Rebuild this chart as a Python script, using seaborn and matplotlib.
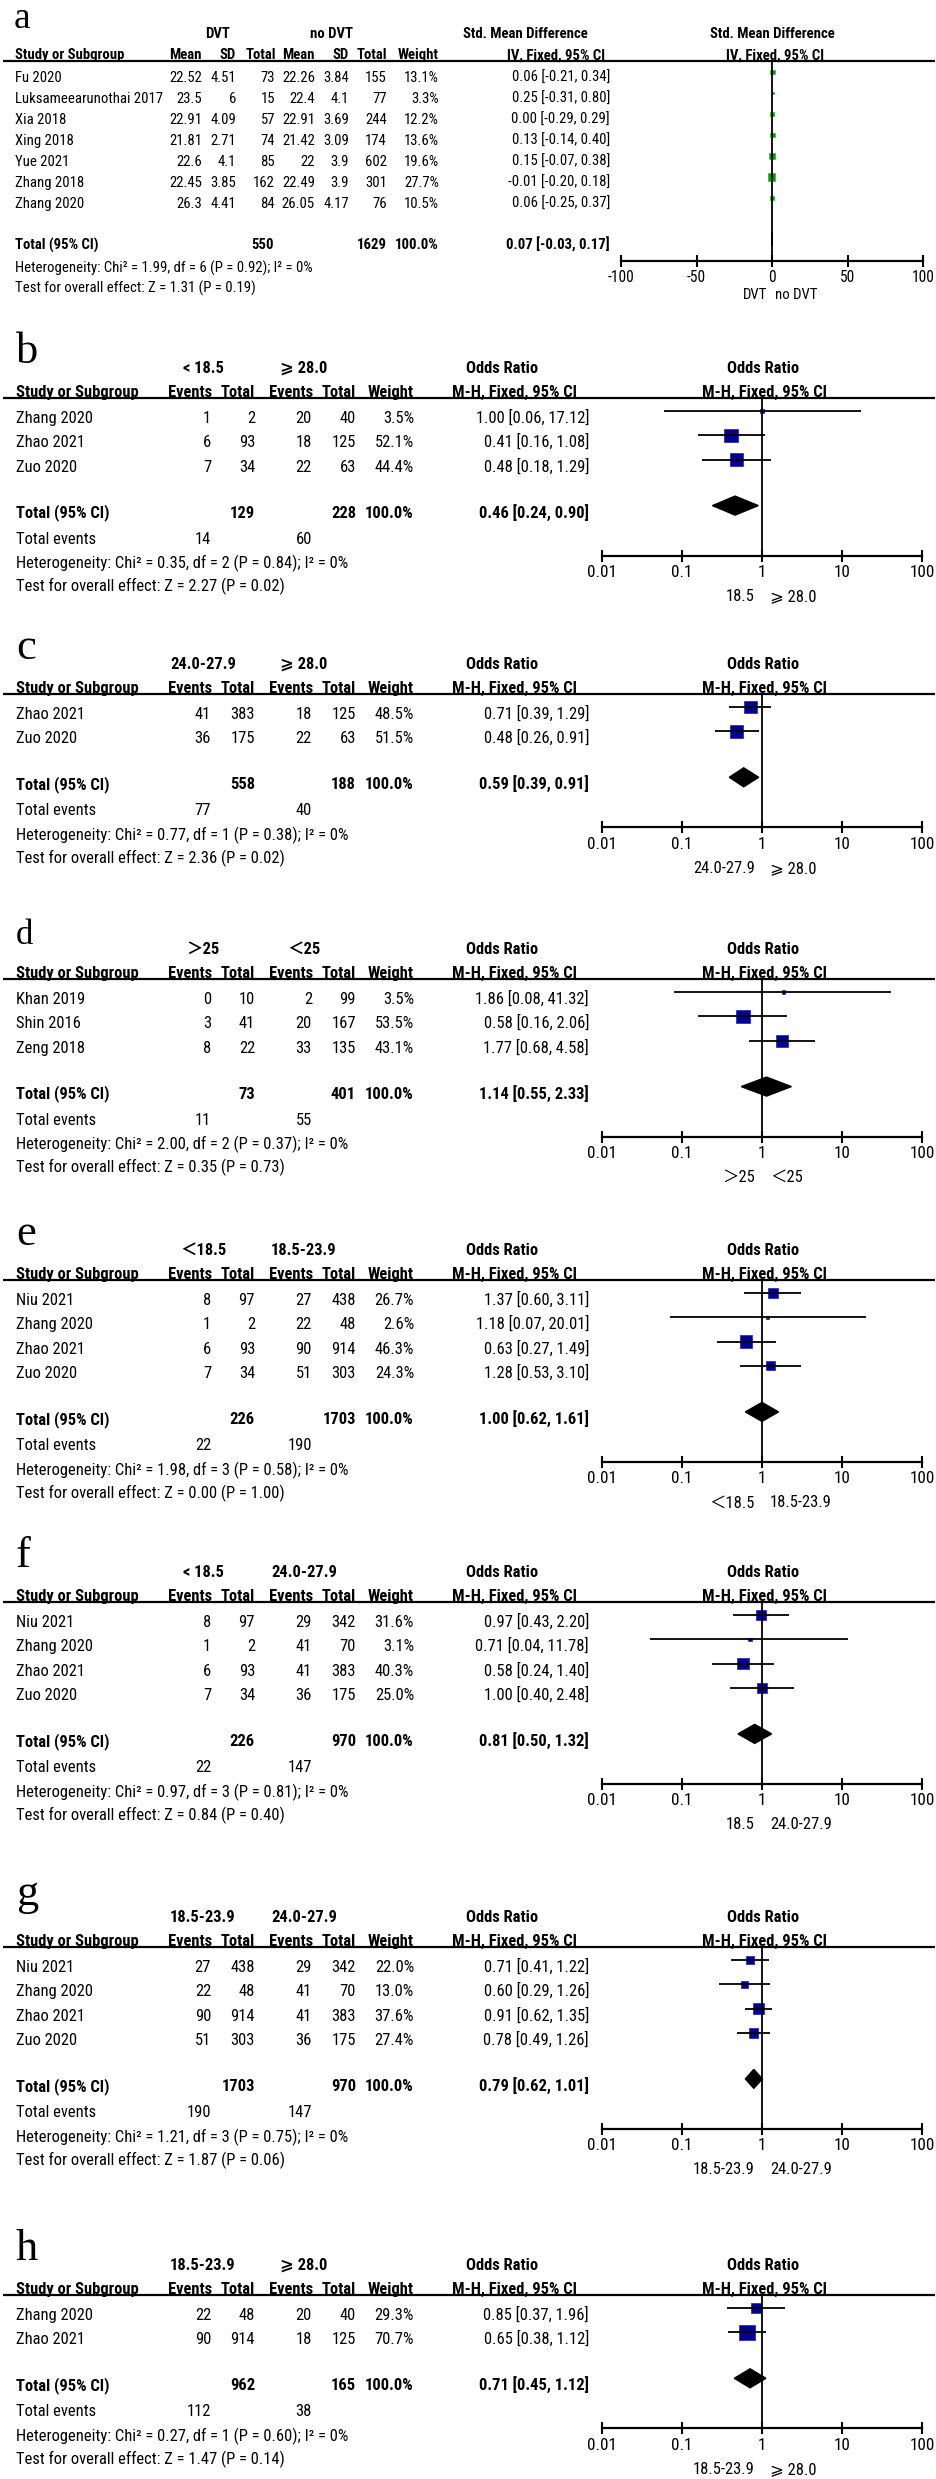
import matplotlib
matplotlib.use("Agg")
import matplotlib.pyplot as plt
import seaborn as sns
import pandas as pd
from matplotlib import font_manager
from matplotlib.ticker import NullLocator

# ---------------- data ----------------
# a: BMI, DVT vs no DVT (std. mean difference)
a_studies = ["Fu 2020", "Luksameearunothai 2017", "Xia 2018", "Xing 2018",
             "Yue 2021", "Zhang 2018", "Zhang 2020"]
a_mean1 = [22.52, 23.5, 22.91, 21.81, 22.6, 22.45, 26.3]
a_sd1 = [4.51, 6, 4.09, 2.71, 4.1, 3.85, 4.41]
a_n1 = [73, 15, 57, 74, 85, 162, 84]
a_mean2 = [22.26, 22.4, 22.91, 21.42, 22, 22.49, 26.05]
a_sd2 = [3.84, 4.1, 3.69, 3.09, 3.9, 3.9, 4.17]
a_n2 = [155, 77, 244, 174, 602, 301, 76]
a_weight = [13.1, 3.3, 12.2, 13.6, 19.6, 27.7, 10.5]
a_smd = [0.06, 0.25, 0.00, 0.13, 0.15, -0.01, 0.06]
a_lo = [-0.21, -0.31, -0.29, -0.14, -0.07, -0.20, -0.25]
a_hi = [0.34, 0.80, 0.29, 0.40, 0.38, 0.18, 0.37]
a_pooled = [0.07, -0.03, 0.17]
a_het = [1.99, 6, 0.92, 0]
a_z = [1.31, 0.19]

# b
b_groups = ["< 18.5", "⩾ 28.0"]
b_studies = ["Zhang 2020", "Zhao 2021", "Zuo 2020"]
b_ev1 = [1, 6, 7]
b_n1 = [2, 93, 34]
b_ev2 = [20, 18, 22]
b_n2 = [40, 125, 63]
b_weight = [3.5, 52.1, 44.4]
b_or = [1.00, 0.41, 0.48]
b_lo = [0.06, 0.16, 0.18]
b_hi = [17.12, 1.08, 1.29]
b_pooled = [0.46, 0.24, 0.90]
b_het = [0.35, 2, 0.84, 0]
b_z = [2.27, 0.02]
b_favours = ["18.5", "⩾ 28.0"]

# c
c_groups = ["24.0-27.9", "⩾ 28.0"]
c_studies = ["Zhao 2021", "Zuo 2020"]
c_ev1 = [41, 36]
c_n1 = [383, 175]
c_ev2 = [18, 22]
c_n2 = [125, 63]
c_weight = [48.5, 51.5]
c_or = [0.71, 0.48]
c_lo = [0.39, 0.26]
c_hi = [1.29, 0.91]
c_pooled = [0.59, 0.39, 0.91]
c_het = [0.77, 1, 0.38, 0]
c_z = [2.36, 0.02]
c_favours = ["24.0-27.9", "⩾ 28.0"]

# d
d_groups = ["＞25", "＜25"]
d_studies = ["Khan 2019", "Shin 2016", "Zeng 2018"]
d_ev1 = [0, 3, 8]
d_n1 = [10, 41, 22]
d_ev2 = [2, 20, 33]
d_n2 = [99, 167, 135]
d_weight = [3.5, 53.5, 43.1]
d_or = [1.86, 0.58, 1.77]
d_lo = [0.08, 0.16, 0.68]
d_hi = [41.32, 2.06, 4.58]
d_pooled = [1.14, 0.55, 2.33]
d_het = [2.00, 2, 0.37, 0]
d_z = [0.35, 0.73]
d_favours = ["＞25", "＜25"]

# e
e_groups = ["＜18.5", "18.5-23.9"]
e_studies = ["Niu 2021", "Zhang 2020", "Zhao 2021", "Zuo 2020"]
e_ev1 = [8, 1, 6, 7]
e_n1 = [97, 2, 93, 34]
e_ev2 = [27, 22, 90, 51]
e_n2 = [438, 48, 914, 303]
e_weight = [26.7, 2.6, 46.3, 24.3]
e_or = [1.37, 1.18, 0.63, 1.28]
e_lo = [0.60, 0.07, 0.27, 0.53]
e_hi = [3.11, 20.01, 1.49, 3.10]
e_pooled = [1.00, 0.62, 1.61]
e_het = [1.98, 3, 0.58, 0]
e_z = [0.00, 1.00]
e_favours = ["＜18.5", "18.5-23.9"]

# f
f_groups = ["< 18.5", "24.0-27.9"]
f_studies = ["Niu 2021", "Zhang 2020", "Zhao 2021", "Zuo 2020"]
f_ev1 = [8, 1, 6, 7]
f_n1 = [97, 2, 93, 34]
f_ev2 = [29, 41, 41, 36]
f_n2 = [342, 70, 383, 175]
f_weight = [31.6, 3.1, 40.3, 25.0]
f_or = [0.97, 0.71, 0.58, 1.00]
f_lo = [0.43, 0.04, 0.24, 0.40]
f_hi = [2.20, 11.78, 1.40, 2.48]
f_pooled = [0.81, 0.50, 1.32]
f_het = [0.97, 3, 0.81, 0]
f_z = [0.84, 0.40]
f_favours = ["18.5", "24.0-27.9"]

# g
g_groups = ["18.5-23.9", "24.0-27.9"]
g_studies = ["Niu 2021", "Zhang 2020", "Zhao 2021", "Zuo 2020"]
g_ev1 = [27, 22, 90, 51]
g_n1 = [438, 48, 914, 303]
g_ev2 = [29, 41, 41, 36]
g_n2 = [342, 70, 383, 175]
g_weight = [22.0, 13.0, 37.6, 27.4]
g_or = [0.71, 0.60, 0.91, 0.78]
g_lo = [0.41, 0.29, 0.62, 0.49]
g_hi = [1.22, 1.26, 1.35, 1.26]
g_pooled = [0.79, 0.62, 1.01]
g_het = [1.21, 3, 0.75, 0]
g_z = [1.87, 0.06]
g_favours = ["18.5-23.9", "24.0-27.9"]

# h
h_groups = ["18.5-23.9", "⩾ 28.0"]
h_studies = ["Zhang 2020", "Zhao 2021"]
h_ev1 = [22, 90]
h_n1 = [48, 914]
h_ev2 = [20, 18]
h_n2 = [40, 125]
h_weight = [29.3, 70.7]
h_or = [0.85, 0.65]
h_lo = [0.37, 0.38]
h_hi = [1.96, 1.12]
h_pooled = [0.71, 0.45, 1.12]
h_het = [0.27, 1, 0.60, 0]
h_z = [1.47, 0.14]
h_favours = ["18.5-23.9", "⩾ 28.0"]

or_panels = [
    ("b", b_groups, b_studies, b_ev1, b_n1, b_ev2, b_n2, b_weight, b_or, b_lo, b_hi, b_pooled, b_het, b_z, b_favours),
    ("c", c_groups, c_studies, c_ev1, c_n1, c_ev2, c_n2, c_weight, c_or, c_lo, c_hi, c_pooled, c_het, c_z, c_favours),
    ("d", d_groups, d_studies, d_ev1, d_n1, d_ev2, d_n2, d_weight, d_or, d_lo, d_hi, d_pooled, d_het, d_z, d_favours),
    ("e", e_groups, e_studies, e_ev1, e_n1, e_ev2, e_n2, e_weight, e_or, e_lo, e_hi, e_pooled, e_het, e_z, e_favours),
    ("f", f_groups, f_studies, f_ev1, f_n1, f_ev2, f_n2, f_weight, f_or, f_lo, f_hi, f_pooled, f_het, f_z, f_favours),
    ("g", g_groups, g_studies, g_ev1, g_n1, g_ev2, g_n2, g_weight, g_or, g_lo, g_hi, g_pooled, g_het, g_z, g_favours),
    ("h", h_groups, h_studies, h_ev1, h_n1, h_ev2, h_n2, h_weight, h_or, h_lo, h_hi, h_pooled, h_het, h_z, h_favours),
]
# header rule of each panel (pixels from top)
or_lines = [398, 694, 979, 1280, 1602, 1947, 2295]
label_sizes = {"b": 32, "c": 32, "d": 25, "e": 32, "f": 32, "g": 32, "h": 32}

# ---------------- style ----------------
W, H = 936, 2479
sns.set_theme(style="white")

# prefer a narrow sans (the original uses Arial Narrow); size so widths match
entries = font_manager.fontManager.ttflist
names = {f.name for f in entries}
BASE, STRETCH, FS = "Liberation Sans", "normal", 10.4
for cand, size in [("Liberation Sans Narrow", 12.2), ("Arial Narrow", 12.2),
                   ("Roboto Condensed", 11.4), ("Noto Sans Condensed", 11.2)]:
    if cand in names:
        BASE, FS = cand, size * 1.04
        break
else:
    for fam, size in [("Noto Sans", 11.0), ("Open Sans", 10.8), ("Roboto", 11.2)]:
        cond = [f for f in entries if f.name == fam and str(f.stretch) in ("condensed", "semi-condensed", "extra-condensed")]
        if cond:
            BASE, STRETCH, FS = fam, str(cond[0].stretch), size * 1.04
            break
FS_A = FS * 0.9
plt.rcParams["font.family"] = [BASE, "DejaVu Sans", "Noto Sans CJK SC"]
plt.rcParams["font.stretch"] = STRETCH
plt.rcParams["text.color"] = "black"
plt.rcParams["xtick.color"] = "black"
plt.rcParams["axes.edgecolor"] = "black"
SERIF = ["Liberation Serif", "DejaVu Serif"]

fig = plt.figure(figsize=(W / 100, H / 100), dpi=100)
bg = fig.add_axes([0, 0, 1, 1])
bg.set_xlim(0, W)
bg.set_ylim(H, 0)
bg.axis("off")


def txt(x, y, s, ha="left", bold=False, size=FS):
    bg.text(x, y + 0.5 * size, s, ha=ha, va="baseline", fontsize=size,
            fontweight="bold" if bold else "normal")


def rule(y):
    bg.plot([3, 935], [y, y], color="black", lw=1.6, solid_capstyle="butt")


def forest(line_y, axis_y, x0, x1, log):
    ax = fig.add_axes([x0 / W, 1 - axis_y / H, (x1 - x0) / W, (axis_y - line_y) / H])
    ax.patch.set_alpha(0)
    if log:
        ax.set_xscale("log")
    return ax


def finish(ax, line_y, axis_y, lim, ref, ticks, ticklabels, fs):
    ax.set_xlim(*lim)
    ax.set_ylim(axis_y, line_y)
    ax.axvline(ref, color="black", lw=1.3)
    ax.set_xticks(ticks)
    ax.set_xticklabels(ticklabels)
    ax.xaxis.set_minor_locator(NullLocator())
    ax.set_yticks([])
    ax.set_xlabel("")
    ax.set_ylabel("")
    for s in ["top", "left", "right"]:
        ax.spines[s].set_visible(False)
    ax.spines["bottom"].set_linewidth(1.6)
    ax.tick_params(axis="x", bottom=True, direction="inout", length=8.6,
                   width=1.5, labelsize=fs, pad=2.5)


# ---------------- panel a ----------------
line = 61
row0, sp = 77, 21
rows = [row0 + i * sp for i in range(len(a_studies))]
total_y = rows[-1] + 41
axis_y = total_y + 17
bg.text(14, 28, "a", fontsize=27, family=SERIF, va="baseline")
txt(218, line - 28, "DVT", "center", True, FS_A)
txt(332, line - 28, "no DVT", "center", True, FS_A)
txt(525, line - 28, "Std. Mean Difference", "center", True, FS_A)
txt(772, line - 28, "Std. Mean Difference", "center", True, FS_A)
for x, s, ha in [(15, "Study or Subgroup", "left"), (202, "Mean", "right"), (236, "SD", "right"),
                 (276, "Total", "right"), (315, "Mean", "right"), (349, "SD", "right"),
                 (387, "Total", "right"), (439, "Weight", "right"),
                 (556, "IV, Fixed, 95% CI", "center"), (775, "IV, Fixed, 95% CI", "center")]:
    txt(x, line - 7, s, ha, True, FS_A)
rule(line)
for i, y in enumerate(rows):
    txt(15, y, a_studies[i], size=FS_A)
    for x, v in [(202, a_mean1[i]), (236, a_sd1[i]), (275, a_n1[i]), (315, a_mean2[i]),
                 (349, a_sd2[i]), (387, a_n2[i])]:
        txt(x, y, str(v), "right", size=FS_A)
    txt(439, y, f"{a_weight[i]:.1f}%", "right", size=FS_A)
    txt(610, y, f"{a_smd[i]:.2f} [{a_lo[i]:.2f}, {a_hi[i]:.2f}]", "right", size=FS_A)
txt(15, total_y, "Total (95% CI)", bold=True, size=FS_A)
txt(274, total_y, str(sum(a_n1)), "right", True, FS_A)
txt(387, total_y, str(sum(a_n2)), "right", True, FS_A)
txt(439, total_y, "100.0%", "right", True, FS_A)
txt(610, total_y, f"{a_pooled[0]:.2f} [{a_pooled[1]:.2f}, {a_pooled[2]:.2f}]", "right", True, FS_A)
txt(15, total_y + 23, f"Heterogeneity: Chi² = {a_het[0]:.2f}, df = {a_het[1]} (P = {a_het[2]:.2f}); I² = {a_het[3]}%", size=FS_A)
txt(15, total_y + 43, f"Test for overall effect: Z = {a_z[0]:.2f} (P = {a_z[1]:.2f})", size=FS_A)

ax = forest(line, axis_y, 621, 923, False)
mark_y = [y - 5 for y in rows]
ax.hlines(mark_y, a_lo, a_hi, color="black", lw=1.2)
dfa = pd.DataFrame({"est": a_smd, "y": mark_y, "w": a_weight})
sns.scatterplot(data=dfa, x="est", y="y", size="w", sizes=(0, 92), size_norm=(0, 100),
                marker="s", color="#009a00", edgecolor="#33b833", linewidth=0.5,
                legend=False, ax=ax)
yc = total_y - 5
ax.fill([a_pooled[1], a_pooled[0], a_pooled[2], a_pooled[0]], [yc, yc - 7, yc, yc + 7], color="black")
finish(ax, line, axis_y, (-100, 100), 0, [-100, -50, 0, 50, 100],
       ["-100", "-50", "0", "50", "100"], FS_A + 0.5)
ax.annotate("DVT", xy=(0, 0), xycoords=("data", "axes fraction"), xytext=(-5, -34),
            textcoords="offset pixels", ha="right", va="center", fontsize=FS_A)
ax.annotate("no DVT", xy=(0, 0), xycoords=("data", "axes fraction"), xytext=(3, -34),
            textcoords="offset pixels", ha="left", va="center", fontsize=FS_A)

# ---------------- odds ratio panels ----------------
sp = 24.3
for (lab, groups, studies, ev1, n1, ev2, n2, wt, est, lo, hi, pooled, het, z, fav), line in zip(or_panels, or_lines):
    rows = [line + 19 + i * sp for i in range(len(studies))]
    total_y = rows[-1] + 46
    axis_y = total_y + 44
    bg.text(16, line - (42 if lab == "g" else 35), lab, fontsize=label_sizes[lab],
            family=SERIF, va="baseline")
    txt(203, line - 31, groups[0], "center", True)
    txt(304, line - 31, groups[1], "center", True)
    txt(502, line - 31, "Odds Ratio", "center", True)
    txt(763, line - 31, "Odds Ratio", "center", True)
    for x, s, ha in [(16, "Study or Subgroup", "left"), (212, "Events", "right"),
                     (255, "Total", "right"), (313, "Events", "right"), (356, "Total", "right"),
                     (414, "Weight", "right"), (514, "M-H, Fixed, 95% CI", "center"),
                     (765, "M-H, Fixed, 95% CI", "center")]:
        txt(x, line - 7, s, ha, True)
    rule(line)
    for i, y in enumerate(rows):
        txt(16, y, studies[i])
        for x, v in [(211, ev1[i]), (255, n1[i]), (312, ev2[i]), (356, n2[i])]:
            txt(x, y, str(v), "right")
        txt(414, y, f"{wt[i]:.1f}%", "right")
        txt(589, y, f"{est[i]:.2f} [{lo[i]:.2f}, {hi[i]:.2f}]", "right")
    txt(16, total_y, "Total (95% CI)", bold=True)
    txt(255, total_y, str(sum(n1)), "right", True)
    txt(356, total_y, str(sum(n2)), "right", True)
    txt(414, total_y, "100.0%", "right", True)
    txt(589, total_y, f"{pooled[0]:.2f} [{pooled[1]:.2f}, {pooled[2]:.2f}]", "right", True)
    txt(16, total_y + 26, "Total events")
    txt(211, total_y + 26, str(sum(ev1)), "right")
    txt(312, total_y + 26, str(sum(ev2)), "right")
    txt(16, total_y + 51, f"Heterogeneity: Chi² = {het[0]:.2f}, df = {het[1]} (P = {het[2]:.2f}); I² = {het[3]}%")
    txt(16, total_y + 74, f"Test for overall effect: Z = {z[0]:.2f} (P = {z[1]:.2f})")

    ax = forest(line, axis_y, 602, 922, True)
    mark_y = [y - 6 for y in rows]
    ax.hlines(mark_y, lo, hi, color="black", lw=1.3)
    dfp = pd.DataFrame({"est": est, "y": mark_y, "w": wt})
    sns.scatterplot(data=dfp, x="est", y="y", size="w", sizes=(0, 177), size_norm=(0, 100),
                    marker="s", color="#000090", edgecolor="#3030c0", linewidth=0.6,
                    legend=False, ax=ax)
    yc = total_y - 6
    ax.fill([pooled[1], pooled[0], pooled[2], pooled[0]], [yc, yc - 9.5, yc, yc + 9.5],
            color="black")
    finish(ax, line, axis_y, (0.01, 100), 1, [0.01, 0.1, 1, 10, 100],
           ["0.01", "0.1", "1", "10", "100"], FS + 0.5)
    ax.annotate(fav[0], xy=(1, 0), xycoords=("data", "axes fraction"), xytext=(-7, -41),
                textcoords="offset pixels", ha="right", va="center", fontsize=FS)
    ax.annotate(fav[1], xy=(1, 0), xycoords=("data", "axes fraction"), xytext=(8, -41),
                textcoords="offset pixels", ha="left", va="center", fontsize=FS)

fig.savefig("out.png", dpi=100)
